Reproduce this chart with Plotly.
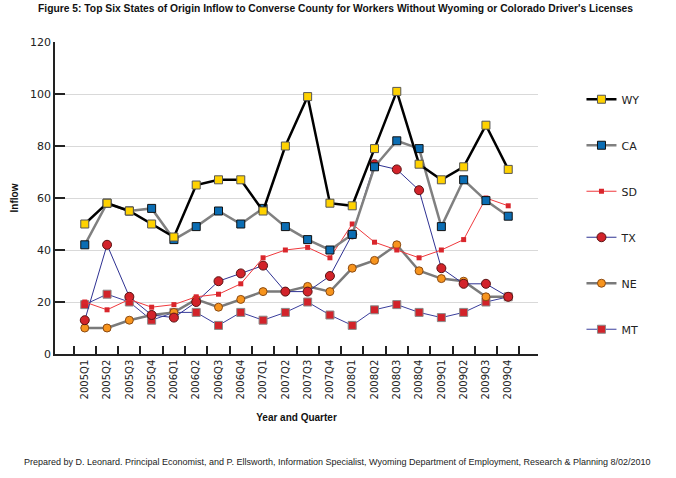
import plotly.graph_objects as go

quarters = [f"{y}Q{q}" for y in range(2005, 2010) for q in range(1, 5)]

wy = [50, 58, 55, 50, 45, 65, 67, 67, 55, 80, 99, 58, 57, 79, 101, 73, 67, 72, 88, 71]
ca = [42, 58, 55, 56, 44, 49, 55, 50, 56, 49, 44, 40, 46, 72, 82, 79, 49, 67, 59, 53]
sd = [20, 17, 21, 18, 19, 22, 23, 27, 37, 40, 41, 37, 50, 43, 40, 37, 40, 44, 60, 57]
tx = [13, 42, 22, 15, 14, 20, 28, 31, 34, 24, 24, 30, 46, 73, 71, 63, 33, 27, 27, 22]
ne = [10, 10, 13, 15, 16, 21, 18, 21, 24, 24, 26, 24, 33, 36, 42, 32, 29, 28, 22, 22]
mt = [19, 23, 20, 13, 16, 16, 11, 16, 13, 16, 20, 15, 11, 17, 19, 16, 14, 16, 20, 22]

FONT = "Liberation Sans"
TICKFONT = "DejaVu Sans"

fig = go.Figure()

# drawn bottom to top: MT, NE, TX, SD, CA, WY
fig.add_trace(go.Scatter(
    x=quarters, y=mt, name="MT", mode="lines+markers", legendrank=6, legendgroup="MT",
    line=dict(color="#3A3E9C", width=1),
    marker=dict(symbol="square", size=8, color="#D2232A", line=dict(color="#8a8a8a", width=1))))
fig.add_trace(go.Scatter(
    x=quarters, y=ne, name="NE", mode="lines+markers", legendrank=5, legendgroup="NE",
    line=dict(color="#7a7a7a", width=2.5),
    marker=dict(symbol="circle", size=8, color="#F7941D", line=dict(color="#8B4A12", width=1))))
fig.add_trace(go.Scatter(
    x=quarters, y=tx, name="TX", mode="lines+markers", legendrank=4, legendgroup="TX",
    line=dict(color="#2E3192", width=1),
    marker=dict(symbol="circle", size=9, color="#D2232A", line=dict(color="#5a1414", width=1))))
fig.add_trace(go.Scatter(
    x=quarters, y=sd, name="SD", mode="lines+markers", legendrank=3, legendgroup="SD",
    line=dict(color="#F0383C", width=1),
    marker=dict(symbol="square", size=5, color="#D9262C", line=dict(width=0))))
fig.add_trace(go.Scatter(
    x=quarters, y=ca, name="CA", mode="lines+markers", legendrank=2, legendgroup="CA",
    line=dict(color="#808080", width=2.5),
    marker=dict(symbol="square", size=8, color="#0B6DB3", line=dict(color="#111111", width=1))))
fig.add_trace(go.Scatter(
    x=quarters, y=wy, name="WY", mode="lines+markers", legendrank=1, legendgroup="WY",
    line=dict(color="#000000", width=2.5),
    marker=dict(symbol="square", size=8, color="#FFD200", line=dict(color="#555555", width=1))))

fig.update_layout(
    width=676, height=478,
    margin=dict(l=55, r=138, t=42, b=124),
    paper_bgcolor="white", plot_bgcolor="white",
    font=dict(family=FONT, size=11, color="#222222"),
    showlegend=True,
    legend=dict(x=1.09, xanchor="left", y=0.863, yanchor="top",
                traceorder="grouped", tracegroupgap=27,
                font=dict(family=TICKFONT, size=11, color="#222222"),
                bgcolor="rgba(0,0,0,0)"),
    annotations=[
        dict(text="<b>Figure 5: Top Six States of Origin Inflow to Converse County for Workers Without Wyoming or Colorado Driver's Licenses</b>",
             xref="paper", yref="paper", x=0.58, y=1.0, xanchor="center", yanchor="bottom",
             yshift=26, showarrow=False, font=dict(family=FONT, size=10.3, color="#111111")),
        dict(text="Prepared by D. Leonard. Principal Economist, and P. Ellsworth, Information Specialist, Wyoming Department of Employment, Research & Planning 8/02/2010",
             xref="paper", yref="paper", x=0.585, y=0, xanchor="center", yanchor="middle",
             yshift=-108, showarrow=False, font=dict(family=FONT, size=9, color="#222222")),
    ],
)

fig.update_xaxes(
    type="category", categoryorder="array", categoryarray=quarters,
    showline=True, linecolor="#222222", linewidth=1.5,
    ticks="inside", tickson="boundaries", ticklen=8, tickcolor="#222222", tickwidth=1.5,
    tickangle=-90, tickfont=dict(family=TICKFONT, size=10, color="#222222"),
    showgrid=False, zeroline=False,
    title=dict(text="<b>Year and Quarter</b>", font=dict(family=FONT, size=10, color="#111111"), standoff=16),
)
fig.update_yaxes(
    range=[0, 120], dtick=20, tick0=0,
    showline=True, linecolor="#222222", linewidth=1.5,
    ticks="inside", ticklen=10, tickcolor="#222222", tickwidth=1.5,
    tickfont=dict(family=TICKFONT, size=11, color="#222222"),
    showgrid=True, gridcolor="#D9D9D9", gridwidth=1, zeroline=False,
    title=dict(text="<b>Inflow</b>", font=dict(family=FONT, size=10, color="#111111"), standoff=10),
)

fig.write_html("out.html")
